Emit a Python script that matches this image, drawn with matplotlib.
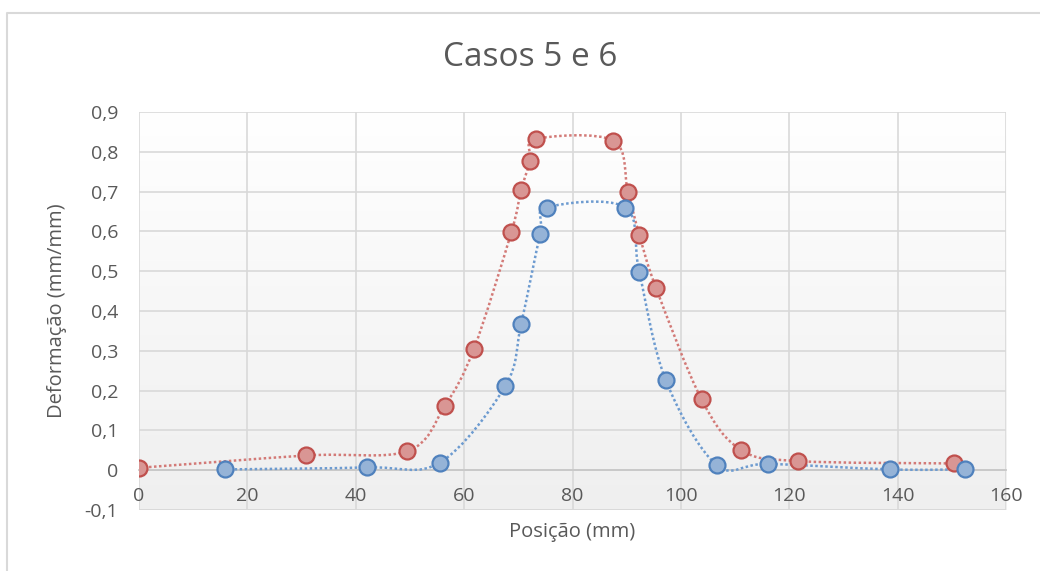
import numpy as np
import matplotlib
matplotlib.use('Agg')
from matplotlib import pyplot as plt
from matplotlib.path import Path
from matplotlib.patches import PathPatch
from matplotlib.lines import Line2D

plt.rcParams['font.family'] = ['Open Sans', 'DejaVu Sans']

# caso 5 (vermelho) e caso 6 (azul)
pos5 = [0, 30.8, 49.5, 56.4, 61.8, 68.7, 70.5, 72.2, 73.2, 87.5, 90.2, 92.3, 95.4,
        103.8, 111.0, 121.6, 150.3]
def5 = [0.006, 0.037, 0.048, 0.161, 0.305, 0.598, 0.703, 0.778, 0.832, 0.828, 0.700,
        0.592, 0.458, 0.178, 0.052, 0.023, 0.017]

pos6 = [15.8, 42.0, 55.5, 67.6, 70.5, 74.0, 75.3, 89.7, 92.3, 97.2, 106.6, 116.1,
        138.6, 152.4]
def6 = [0.002, 0.007, 0.019, 0.212, 0.367, 0.593, 0.660, 0.660, 0.498, 0.226, 0.013,
        0.016, 0.002, 0.002]

xticks = [0, 20, 40, 60, 80, 100, 120, 140, 160]
yticks = [-0.1, 0, 0.1, 0.2, 0.3, 0.4, 0.5, 0.6, 0.7, 0.8, 0.9]
ytick_labels = ['-0,1', '0', '0,1', '0,2', '0,3', '0,4', '0,5', '0,6', '0,7', '0,8', '0,9']

TXT = '#595959'
GRID = '#d9d9d9'


def smooth_path(xs, ys):
    # bezier segments like the smoothed line of a spreadsheet scatter chart
    p = np.column_stack([xs, ys]).astype(float)
    n = len(p)
    verts = [p[0]]
    codes = [Path.MOVETO]
    for i in range(n - 1):
        p0 = p[i - 1] if i > 0 else p[i]
        p1 = p[i]
        p2 = p[i + 1]
        p3 = p[i + 2] if i + 2 < n else p[i + 1]
        c1 = p1 + (p2 - p0) / 6.0
        c2 = p2 - (p3 - p1) / 6.0
        verts += [c1, c2, p2]
        codes += [Path.CURVE4] * 3
    return Path(verts, codes)


fig = plt.figure(figsize=(10.4, 5.71), dpi=100)
ax = fig.add_axes([0.1337, 0.1068, 0.8337, 0.6971])

# light vertical gradient in the plot area
grad = np.linspace(0, 1, 256).reshape(-1, 1)
ax.imshow(grad, extent=[0, 160, -0.1, 0.9], aspect='auto', origin='lower',
          cmap=matplotlib.colors.LinearSegmentedColormap.from_list('g', ['#efefef', '#ffffff']),
          zorder=0)

for xs, ys, lc, fc, ec in [(pos5, def5, '#d37a77', '#d99694', '#c0504d'),
                           (pos6, def6, '#6d9bd0', '#95b3d7', '#4f81bd')]:
    patch = PathPatch(smooth_path(xs, ys), facecolor='none', edgecolor=lc, lw=1.8,
                      linestyle=(0, (1, 1)), zorder=3)
    ax.add_patch(patch)
    ax.plot(xs, ys, 'o', ms=11.5, mfc=fc, mec=ec, mew=1.6, zorder=4)

ax.set_xlim(0, 160)
ax.set_ylim(-0.1, 0.9)
ax.set_xticks(xticks)
ax.set_yticks(yticks)
ax.set_yticklabels(ytick_labels)
ax.grid(True, color=GRID, lw=1.2, zorder=1)
ax.set_axisbelow(True)

for s in ['top', 'right', 'left']:
    ax.spines[s].set_visible(False)
ax.spines['bottom'].set_position(('data', 0))
ax.spines['bottom'].set_color('#c8c8c8')
ax.spines['bottom'].set_linewidth(1.3)
ax.spines['bottom'].set_zorder(2)
ax.axhline(-0.1, color=GRID, lw=1.2, zorder=1)

ax.tick_params(axis='both', length=0, labelsize=14, labelcolor=TXT)
ax.tick_params(axis='y', pad=15)
ax.tick_params(axis='x', pad=12)

ax.set_xlabel('Posição (mm)', fontsize=14.5, color=TXT)
ax.xaxis.set_label_coords(0.5, -0.03)
ax.set_ylabel('Deformação (mm/mm)', fontsize=14.5, color=TXT)
ax.yaxis.set_label_coords(-0.083, 0.5)

fig.text(530 / 1040, 1 - 58 / 571, 'Casos 5 e 6', fontsize=24, color=TXT,
         ha='center', va='center')

# outer chart border
fig.add_artist(Line2D([7 / 1040, 7 / 1040, 1.0], [0.0, 1 - 13 / 571, 1 - 13 / 571],
                      transform=fig.transFigure, color=GRID, lw=1.5))

fig.savefig('out.png', dpi=100)
